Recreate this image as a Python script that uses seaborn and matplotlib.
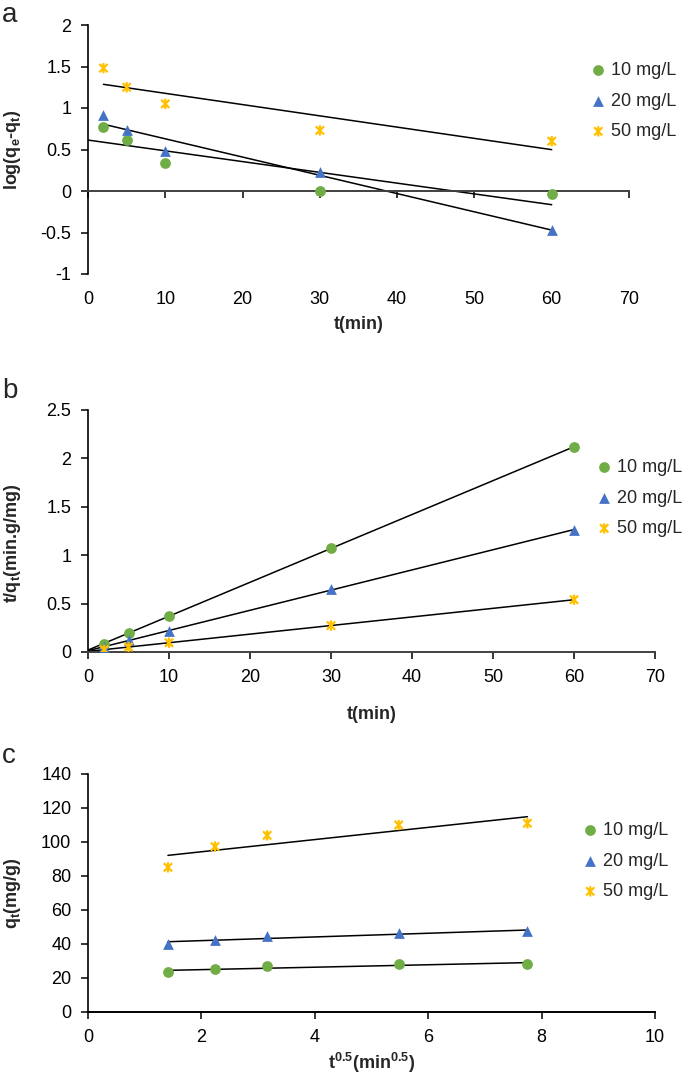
import numpy as np
import pandas as pd
import matplotlib
matplotlib.use('Agg')
import matplotlib.pyplot as plt
import matplotlib.path as mpath
import seaborn as sns

# ---------------- data ----------------
t_min = [2, 5, 10, 30, 60]
t_sqrt = [1.41, 2.24, 3.16, 5.48, 7.75]
series_labels = ['10 mg/L', '20 mg/L', '50 mg/L']

log_qe_qt_10 = [0.77, 0.61, 0.34, 0.00, -0.04]
log_qe_qt_20 = [0.92, 0.73, 0.48, 0.23, -0.47]
log_qe_qt_50 = [1.48, 1.25, 1.05, 0.73, 0.60]

t_over_qt_10 = [0.085, 0.20, 0.37, 1.07, 2.12]
t_over_qt_20 = [0.05, 0.12, 0.22, 0.65, 1.26]
t_over_qt_50 = [0.024, 0.052, 0.096, 0.273, 0.54]

qt_10 = [23.3, 25.1, 27.0, 28.2, 28.2]
qt_20 = [39.8, 42.4, 44.9, 46.3, 47.4]
qt_50 = [85.1, 97.3, 103.9, 110.0, 111.0]

# ---------------- style ----------------
sns.set_theme(style='white')
plt.rcParams['font.family'] = ['Liberation Sans', 'DejaVu Sans']
plt.rcParams['mathtext.fontset'] = 'custom'
plt.rcParams['mathtext.rm'] = 'Liberation Sans:bold'
plt.rcParams['mathtext.it'] = 'Liberation Sans:bold'
plt.rcParams['mathtext.bf'] = 'Liberation Sans:bold'

colors = ['#70AD47', '#4472C4', '#FFC000']
star = mpath.Path(
    [(-1, -1), (1, 1), (-1, 1), (1, -1), (0, -1.25), (0, 1.25)],
    [mpath.Path.MOVETO, mpath.Path.LINETO,
     mpath.Path.MOVETO, mpath.Path.LINETO,
     mpath.Path.MOVETO, mpath.Path.LINETO])
markers = ['o', '^', star]
msizes = [60, 60, 55]

W, H = 683, 1085
fig = plt.figure(figsize=(W / 100, H / 100), dpi=100)


def rect(l, r, t, b):
    return [l / W, 1 - b / H, (r - l) / W, (b - t) / H]


def draw_panel(ax, x, ys, spans, xlim, ylim, xticks, yticks, yfmt):
    for i, (y, lab) in enumerate(zip(ys, series_labels)):
        m = markers[i]
        if i == 2:
            sns.scatterplot(x=x, y=y, ax=ax, marker=m, s=msizes[i],
                            color=colors[i], edgecolor=colors[i],
                            facecolor='none', linewidth=1.6, label=lab, zorder=3)
        else:
            sns.scatterplot(x=x, y=y, ax=ax, marker=m, s=msizes[i],
                            color=colors[i], edgecolor=colors[i],
                            linewidth=0, label=lab, zorder=3)
    for i, y in enumerate(ys):
        slope, icpt = np.polyfit(x, y, 1)
        xs = np.array(spans[i], dtype=float)
        sns.lineplot(x=xs, y=slope * xs + icpt, ax=ax, color='black',
                     linewidth=1.1, zorder=2, legend=False)
    ax.set_xlim(*xlim)
    ax.set_ylim(*ylim)
    ax.set_xticks(xticks)
    ax.set_yticks(yticks)
    ax.set_yticklabels([yfmt(v) for v in yticks])
    for s in ['top', 'right']:
        ax.spines[s].set_visible(False)
    ax.spines['left'].set_color('black')
    ax.spines['left'].set_linewidth(1.2)
    ax.spines['bottom'].set_color('#404040')
    ax.spines['bottom'].set_linewidth(1.4)
    ax.tick_params(axis='both', direction='out', length=5, width=1.1,
                   colors='black', labelsize=13, pad=7, left=True, bottom=True)
    ax.grid(False)


def gfmt(v):
    return ('%g' % v)


def legend_at(ax, x0, ytop):
    h, l = ax.get_legend_handles_labels()
    ax.legend(h[:3], l[:3], loc='upper left',
              bbox_to_anchor=(x0 / W, 1 - ytop / H),
              bbox_transform=fig.transFigure, frameon=False, fontsize=13,
              handlelength=0.8, handletextpad=0.3, labelspacing=0.75,
              borderpad=0, borderaxespad=0)


# ---------------- panel a ----------------
axa = fig.add_axes(rect(88, 629, 25, 274))
draw_panel(axa, t_min, [log_qe_qt_10, log_qe_qt_20, log_qe_qt_50],
           [(0, 60), (2, 60), (2, 60)], (0, 70), (-1, 2),
           list(range(0, 71, 10)), [-1, -0.5, 0, 0.5, 1, 1.5, 2], gfmt)
axa.spines['bottom'].set_position(('data', 0))
axa.tick_params(axis='x', labelbottom=False)
sec = axa.secondary_xaxis(0)
sec.set_xticks(list(range(0, 71, 10)))
sec.spines['bottom'].set_visible(False)
sec.tick_params(axis='x', length=0, labelsize=13, pad=12, colors='black')
axa.set_xlabel('t(min)', fontsize=13, fontweight='bold')
axa.xaxis.set_label_coords(0.5, -0.17)
axa.set_ylabel('log(q$_\\mathrm{e}$-q$_\\mathrm{t}$)', fontsize=13,
               fontweight='bold')
axa.yaxis.set_label_coords(-0.12, 0.5)
legend_at(axa, 591, 62)

# ---------------- panel b ----------------
axb = fig.add_axes(rect(88, 655, 410, 652))
draw_panel(axb, t_min, [t_over_qt_10, t_over_qt_20, t_over_qt_50],
           [(0, 60), (0, 60), (0, 60)], (0, 70), (0, 2.5),
           list(range(0, 71, 10)), [0, 0.5, 1, 1.5, 2, 2.5], gfmt)
axb.set_xlabel('t(min)', fontsize=13, fontweight='bold')
axb.xaxis.set_label_coords(0.5, -0.225)
axb.set_ylabel('t/q$_\\mathrm{t}$(min.g/mg)', fontsize=13, fontweight='bold')
axb.yaxis.set_label_coords(-0.115, 0.45)
legend_at(axb, 597, 459)

# ---------------- panel c ----------------
axc = fig.add_axes(rect(88, 655, 774, 1012))
draw_panel(axc, t_sqrt, [qt_10, qt_20, qt_50],
           [(t_sqrt[0], t_sqrt[-1])] * 3, (0, 10), (0, 140),
           [0, 2, 4, 6, 8, 10], list(range(0, 141, 20)), gfmt)
axc.spines['bottom'].set_color('black')
axc.set_xlabel('t$^{\\mathrm{0.5}}$(min$^{\\mathrm{0.5}}$)', fontsize=13,
               fontweight='bold')
axc.xaxis.set_label_coords(0.5, -0.165)
axc.set_ylabel('q$_\\mathrm{t}$(mg/g)', fontsize=13, fontweight='bold')
axc.yaxis.set_label_coords(-0.115, 0.5)
legend_at(axc, 583, 822)

# panel letters
for letter, yb in [('a', 22), ('b', 398), ('c', 763)]:
    fig.text(2 / W, 1 - yb / H, letter, fontsize=20, va='baseline', ha='left')

fig.savefig('out.png', dpi=100)
